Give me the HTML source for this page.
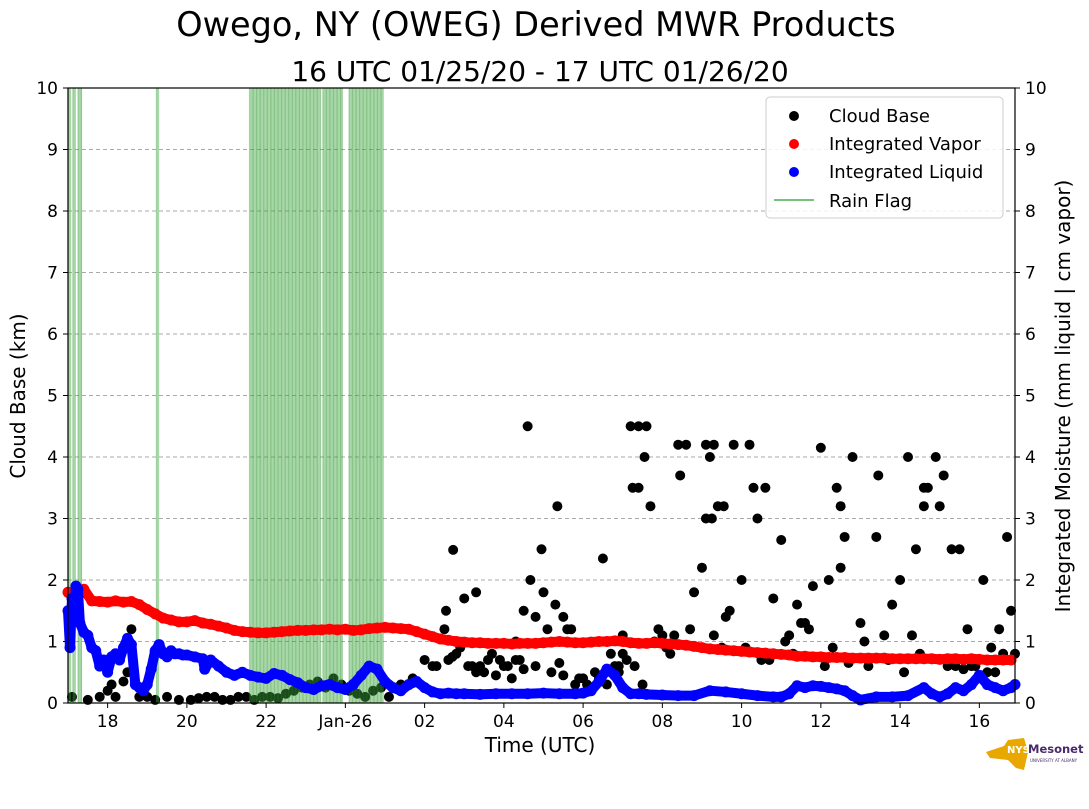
<!DOCTYPE html>
<html><head><meta charset="utf-8">
<style>
body{margin:0;background:#fff;}
svg text{font-family:"DejaVu Sans","Liberation Sans",sans-serif;}
</style></head>
<body>
<svg width="1089" height="804" viewBox="0 0 1089 804" xmlns="http://www.w3.org/2000/svg">
<text x="536" y="36" font-size="33.5" text-anchor="middle">Owego, NY (OWEG) Derived MWR Products</text>
<text x="540" y="81" font-size="28" text-anchor="middle">16 UTC 01/25/20 - 17 UTC 01/26/20</text>
<g id="grid"></g>
<g id="cb"></g>
<g id="rain"></g>
<g id="vap"></g>
<g id="liq"></g>
<rect x="68" y="88" width="947" height="615" fill="none" stroke="#000" stroke-width="1.2"/>
<g id="axes"></g>
<text x="540" y="752" font-size="20" text-anchor="middle">Time (UTC)</text>
<text transform="translate(25,396) rotate(-90)" font-size="20" text-anchor="middle">Cloud Base (km)</text>
<text transform="translate(1070,396) rotate(-90)" font-size="20" text-anchor="middle">Integrated Moisture (mm liquid | cm vapor)</text>
<g>
<rect x="766" y="97" width="237" height="121" rx="4" fill="#fff" fill-opacity="0.85" stroke="#ccc"/>
<circle cx="794" cy="116" r="5" fill="#000"/><text x="829" y="122" font-size="18">Cloud Base</text>
<circle cx="794" cy="144" r="5" fill="red"/><text x="829" y="150" font-size="18">Integrated Vapor</text>
<circle cx="794" cy="172" r="5" fill="blue"/><text x="829" y="178" font-size="18">Integrated Liquid</text>
<line x1="774" y1="200" x2="814" y2="200" stroke="#4caf50" stroke-width="1.5"/><text x="829" y="207" font-size="18">Rain Flag</text>
</g>
<g>
<path d="M986 752 L1004 746 L1008 740 L1024 738 L1028 752 L1024 770 L1016 768 L1008 760 L990 758 Z" fill="#e8a800"/>
<text x="1007" y="753" font-size="10" font-weight="bold" fill="#fff">NYS</text>
<text x="1028" y="753" font-size="11.5" font-weight="bold" fill="#4b2a6b">Mesonet</text>
<text x="1030" y="762" font-size="4" fill="#4b2a6b">UNIVERSITY AT ALBANY</text>
</g>
</svg>
<script>
const NS="http://www.w3.org/2000/svg";
const yTicks=[0,1,2,3,4,5,6,7,8,9,10];
const xTickHours=[18,20,22,24,26,28,30,32,34,36,38,40];
const xTickLabels=["18","20","22","Jan-26","02","04","06","08","10","12","14","16"];
const rainStart=[17.0,17.12,17.25,19.23,21.58,23.43,24.09];
const rainEnd=[17.08,17.2,17.35,19.3,23.38,23.94,24.97];
const vapT=[17.0,17.2,17.4,17.6,17.8,18.0,18.2,18.4,18.6,18.8,19.0,19.2,19.4,19.6,19.8,20.0,20.2,20.4,20.6,20.8,21.0,21.2,21.4,21.6,21.8,22.0,22.2,22.4,22.6,22.8,23.0,23.2,23.4,23.6,23.8,24.0,24.2,24.4,24.6,24.8,25.0,25.2,25.4,25.6,25.8,26.0,26.2,26.4,26.6,26.8,27.0,27.2,27.4,27.6,27.8,28.0,28.2,28.4,28.6,28.8,29.0,29.2,29.4,29.6,29.8,30.0,30.2,30.4,30.6,30.8,31.0,31.2,31.4,31.6,31.8,32.0,32.2,32.4,32.6,32.8,33.0,33.2,33.4,33.6,33.8,34.0,34.2,34.4,34.6,34.8,35.0,35.2,35.4,35.6,35.8,36.0,36.2,36.4,36.6,36.8,37.0,37.2,37.4,37.6,37.8,38.0,38.2,38.4,38.6,38.8,39.0,39.2,39.4,39.6,39.8,40.0,40.2,40.4,40.6,40.8];
const vapV=[1.8,1.68,1.85,1.66,1.65,1.64,1.66,1.64,1.65,1.6,1.52,1.45,1.38,1.35,1.32,1.32,1.34,1.3,1.28,1.25,1.22,1.18,1.16,1.15,1.14,1.14,1.15,1.16,1.17,1.18,1.18,1.19,1.19,1.2,1.19,1.2,1.18,1.19,1.21,1.22,1.23,1.22,1.21,1.2,1.16,1.12,1.08,1.04,1.02,1.0,0.99,0.98,0.98,0.97,0.97,0.97,0.96,0.97,0.97,0.97,0.98,0.99,1.0,0.99,0.98,0.98,0.99,1.0,1.0,1.01,1.0,0.98,0.97,0.97,0.98,0.97,0.96,0.95,0.94,0.92,0.9,0.88,0.87,0.86,0.85,0.84,0.83,0.82,0.81,0.8,0.79,0.78,0.76,0.76,0.75,0.75,0.74,0.74,0.74,0.73,0.73,0.73,0.73,0.73,0.72,0.72,0.72,0.72,0.72,0.72,0.71,0.72,0.72,0.71,0.72,0.71,0.7,0.7,0.7,0.7];
const liqT=[17.0,17.05,17.1,17.15,17.2,17.25,17.3,17.4,17.5,17.6,17.7,17.8,17.9,18.0,18.1,18.2,18.3,18.4,18.5,18.6,18.7,18.8,18.9,19.0,19.1,19.2,19.3,19.4,19.5,19.6,19.7,19.8,19.9,20.0,20.2,20.4,20.45,20.6,20.8,21.0,21.2,21.4,21.6,21.8,22.0,22.2,22.4,22.6,22.8,23.0,23.2,23.4,23.6,23.8,24.0,24.2,24.4,24.6,24.8,25.0,25.2,25.4,25.6,25.8,26.0,26.2,26.4,26.6,26.8,27.0,27.4,27.8,28.2,28.6,29.0,29.4,29.8,30.0,30.2,30.4,30.6,30.8,31.0,31.2,31.4,31.6,32.0,32.4,32.8,33.2,33.6,34.0,34.4,34.8,35.0,35.2,35.4,35.6,35.8,36.0,36.2,36.4,36.6,36.8,37.0,37.4,37.8,38.2,38.6,38.8,39.0,39.2,39.4,39.6,39.8,40.0,40.2,40.4,40.6,40.8,40.9];
const liqV=[1.5,0.9,1.7,1.4,1.9,1.85,1.3,1.15,1.1,0.9,0.85,0.6,0.7,0.5,0.75,0.8,0.7,0.9,1.05,0.95,0.3,0.25,0.2,0.3,0.55,0.85,0.95,0.8,0.75,0.85,0.8,0.8,0.78,0.78,0.75,0.72,0.55,0.7,0.6,0.5,0.45,0.5,0.45,0.42,0.4,0.48,0.45,0.38,0.33,0.25,0.22,0.28,0.3,0.25,0.22,0.3,0.45,0.6,0.55,0.35,0.25,0.2,0.3,0.35,0.25,0.18,0.15,0.16,0.15,0.15,0.14,0.15,0.15,0.15,0.16,0.15,0.15,0.16,0.2,0.35,0.55,0.45,0.25,0.15,0.15,0.14,0.13,0.12,0.12,0.2,0.18,0.15,0.12,0.1,0.1,0.15,0.28,0.25,0.28,0.27,0.25,0.23,0.2,0.12,0.05,0.1,0.1,0.12,0.25,0.15,0.1,0.15,0.25,0.2,0.3,0.45,0.3,0.25,0.2,0.25,0.3];
const cbT=[17.1,17.5,17.8,18.0,18.1,18.2,18.4,18.5,18.6,18.8,19.0,19.2,19.5,19.8,20.1,20.3,20.5,20.7,20.9,21.1,21.3,21.5,21.7,21.9,22.1,22.3,22.5,22.7,22.9,23.1,23.3,23.5,23.7,23.9,24.1,24.3,24.5,24.7,24.9,25.1,25.4,25.7,26.0,26.2,26.5,26.54,26.72,26.9,27.0,27.1,27.3,27.5,27.7,27.9,28.1,28.3,28.5,28.6,28.67,28.8,28.95,29.1,29.3,29.35,29.5,29.7,29.9,30.1,30.3,30.5,30.7,30.9,31.0,31.2,31.25,31.4,31.4,31.55,31.6,31.7,31.9,32.1,32.3,32.4,32.45,32.6,32.8,33.0,33.1,33.1,33.2,33.25,33.3,33.4,33.55,33.7,33.8,34.0,34.2,34.3,34.4,34.6,34.8,35.0,35.2,35.4,35.6,35.8,36.0,36.2,36.4,36.5,36.5,36.6,36.8,37.0,37.4,37.45,37.6,37.8,38.0,38.2,38.4,38.6,38.6,38.7,38.9,39.0,39.1,39.3,39.5,39.7,39.9,40.1,40.3,40.5,40.7,40.8,40.9,27.3,28.0,28.4,29.0,29.6,30.0,31.0,32.0,33.5,34.5,35.5,36.3,37.2,38.3,39.2,40.2,26.6,26.8,27.2,27.6,27.8,28.2,28.5,28.8,29.2,29.4,29.8,30.4,30.6,30.8,31.1,31.3,31.8,32.2,32.7,33.3,33.6,34.1,34.7,35.1,35.3,35.7,36.1,36.7,37.1,37.7,38.1,38.5,39.4,39.6,39.8,40.0,40.4,40.6,26.3,26.7,27.4,28.3,29.5,30.9,31.5];
const cbV=[0.1,0.05,0.1,0.2,0.3,0.1,0.35,0.5,1.2,0.1,0.1,0.05,0.1,0.05,0.05,0.08,0.1,0.1,0.05,0.05,0.1,0.1,0.05,0.1,0.1,0.08,0.15,0.2,0.25,0.3,0.35,0.25,0.4,0.3,0.2,0.15,0.1,0.2,0.25,0.1,0.3,0.4,0.7,0.6,1.2,1.5,2.49,0.9,1.7,0.6,1.8,0.5,0.8,0.7,0.6,1.0,1.5,4.5,2.0,1.4,2.5,1.2,1.6,3.2,1.4,1.2,0.4,0.3,0.5,2.35,0.8,0.6,1.1,4.5,3.5,4.5,3.5,4.0,4.5,3.2,1.2,0.9,1.1,4.2,3.7,4.2,1.8,2.2,4.2,3.0,4.0,3.0,4.2,3.2,3.2,1.5,4.2,2.0,4.2,3.5,3.0,3.5,1.7,2.65,1.1,1.6,1.3,1.9,4.15,2.0,3.5,3.2,2.2,2.7,4.0,1.3,2.7,3.7,1.1,1.6,2.0,4.0,2.5,3.5,3.2,3.5,4.0,3.2,3.7,2.5,2.5,1.2,0.6,2.0,0.9,1.2,2.7,1.5,0.8,0.5,0.6,0.7,1.8,1.2,0.4,0.8,1.1,0.9,0.7,1.3,0.9,0.6,1.1,0.6,0.5,0.7,0.8,0.6,0.7,0.45,0.4,0.55,0.6,0.5,0.65,0.3,0.4,0.3,0.6,0.7,0.6,1.0,0.8,1.2,1.1,1.4,0.9,0.7,1.0,0.8,1.2,0.6,0.65,1.0,0.7,0.5,0.8,0.6,0.55,0.6,0.7,0.5,0.8,0.6,0.75,0.6,0.7,0.45,0.5,0.3,0.6];
const X0=68,X1=1015,Y0=703,Y1=88,H0=17.0,H1=40.9,VMAX=10;
function xs(h){return X0+(h-H0)/(H1-H0)*(X1-X0);}
function ys(v){return Y0-v/VMAX*(Y0-Y1);}
function mk(tag,attrs,parent){const e=document.createElementNS(NS,tag);for(const k in attrs)e.setAttribute(k,attrs[k]);parent.appendChild(e);return e;}
const grid=document.getElementById('grid'),axes=document.getElementById('axes');
yTicks.forEach(v=>{
  if(v>0&&v<10){const l=mk('line',{x1:X0,x2:X1,y1:ys(v),y2:ys(v),stroke:'#aaa','stroke-dasharray':'4,3','stroke-width':1},grid);
  
  }
  mk('line',{x1:X0-5,x2:X0,y1:ys(v),y2:ys(v),stroke:'#000'},axes);
  mk('line',{x1:X1,x2:X1+5,y1:ys(v),y2:ys(v),stroke:'#000'},axes);
  const t=mk('text',{x:X0-10,y:ys(v)+6,'font-size':17,'text-anchor':'end'},axes);t.textContent=v;
  
  
  const t2=mk('text',{x:X1+10,y:ys(v)+6,'font-size':17},axes);t2.textContent=v;
  
  
});
xTickHours.forEach((h,i)=>{
  mk('line',{x1:xs(h),x2:xs(h),y1:Y0,y2:Y0+5,stroke:'#000'},axes);
  const t=mk('text',{x:xs(h),y:Y0+24,'font-size':17,'text-anchor':'middle'},axes);t.textContent=xTickLabels[i];
  
  
});
const cb=document.getElementById('cb');
cbT.forEach((h,i)=>{const c=mk('circle',{cx:xs(h),cy:ys(cbV[i]),r:5,fill:'#000'},cb);
  
  });
const rain=document.getElementById('rain');
rainStart.forEach((s,i)=>{
  const r=mk('rect',{x:xs(s),y:Y1,width:Math.max(2,xs(rainEnd[i])-xs(s)),height:Y0-Y1,fill:'rgba(60,165,60,0.45)'},rain);
  
  
  for(let h=s;h<=rainEnd[i];h+=0.09){mk('line',{x1:xs(h),x2:xs(h),y1:Y1,y2:Y0,stroke:'rgba(40,140,40,0.25)','stroke-width':1.2},rain);}
});
function series(T,V,color,gid,name){
  const g=document.getElementById(gid);
  const pts=T.map((h,i)=>xs(h)+','+ys(V[i])).join(' ');
  const pl=mk('polyline',{points:pts,fill:'none',stroke:color,'stroke-width':10,'stroke-linejoin':'round','stroke-linecap':'round'},g);
  
  
  T.forEach((h,i)=>{const c=mk('circle',{cx:xs(h),cy:ys(V[i]),r:5.5,fill:color},g);
    
    });
}
series(vapT,vapV,'red','vap','vapor');
series(liqT,liqV,'blue','liq','liquid');
</script>
</body></html>
